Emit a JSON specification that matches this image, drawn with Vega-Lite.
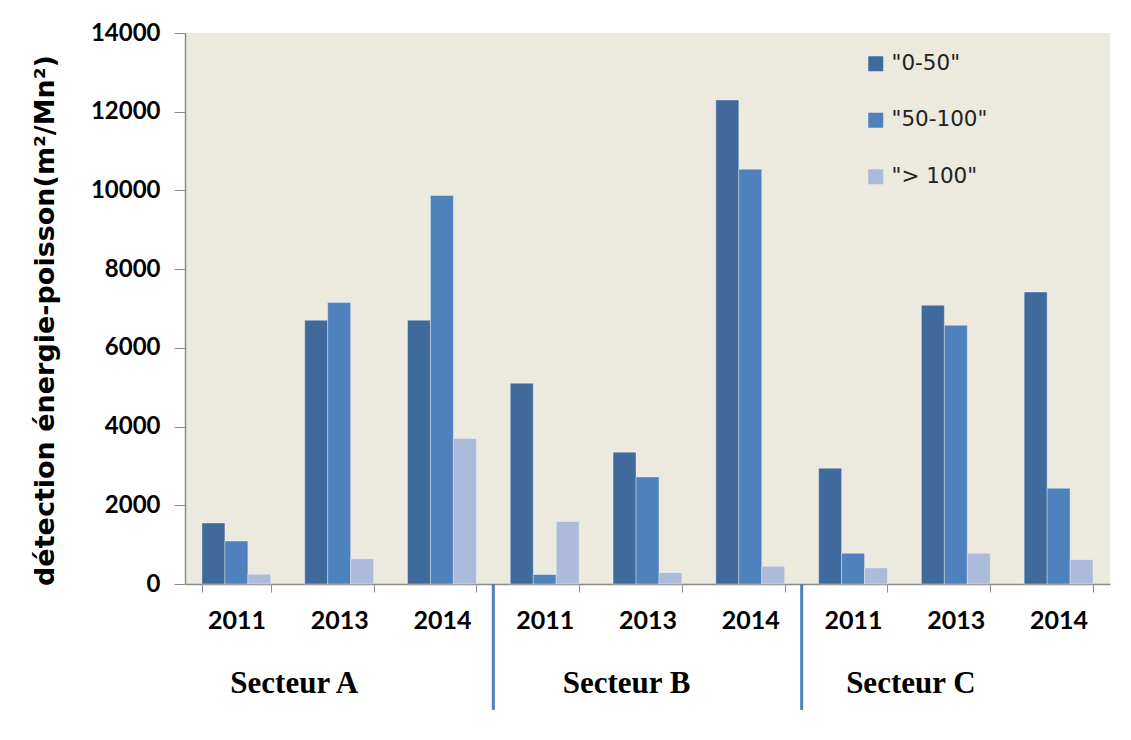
{
  "$schema": "https://vega.github.io/schema/vega-lite/v6.json",
  "width": 925,
  "height": 551,
  "autosize": "none",
  "padding": {"left": 185, "top": 33, "right": 21, "bottom": 156},
  "background": "white",
  "config": {
    "view": {"fill": "#ece9df", "stroke": null},
    "font": "Lato"
  },
  "layer": [
    {
      "data": {
        "values": [
          {"grp": "A|2011", "serie": "\"0-50\"", "v": 1550},
          {"grp": "A|2011", "serie": "\"50-100\"", "v": 1090},
          {"grp": "A|2011", "serie": "\"> 100\"", "v": 250},
          {"grp": "A|2013", "serie": "\"0-50\"", "v": 6700},
          {"grp": "A|2013", "serie": "\"50-100\"", "v": 7150},
          {"grp": "A|2013", "serie": "\"> 100\"", "v": 640},
          {"grp": "A|2014", "serie": "\"0-50\"", "v": 6700},
          {"grp": "A|2014", "serie": "\"50-100\"", "v": 9870},
          {"grp": "A|2014", "serie": "\"> 100\"", "v": 3700},
          {"grp": "B|2011", "serie": "\"0-50\"", "v": 5100},
          {"grp": "B|2011", "serie": "\"50-100\"", "v": 240},
          {"grp": "B|2011", "serie": "\"> 100\"", "v": 1590},
          {"grp": "B|2013", "serie": "\"0-50\"", "v": 3350},
          {"grp": "B|2013", "serie": "\"50-100\"", "v": 2720},
          {"grp": "B|2013", "serie": "\"> 100\"", "v": 290},
          {"grp": "B|2014", "serie": "\"0-50\"", "v": 12300},
          {"grp": "B|2014", "serie": "\"50-100\"", "v": 10540},
          {"grp": "B|2014", "serie": "\"> 100\"", "v": 450},
          {"grp": "C|2011", "serie": "\"0-50\"", "v": 2940},
          {"grp": "C|2011", "serie": "\"50-100\"", "v": 780},
          {"grp": "C|2011", "serie": "\"> 100\"", "v": 410},
          {"grp": "C|2013", "serie": "\"0-50\"", "v": 7080},
          {"grp": "C|2013", "serie": "\"50-100\"", "v": 6575},
          {"grp": "C|2013", "serie": "\"> 100\"", "v": 780},
          {"grp": "C|2014", "serie": "\"0-50\"", "v": 7420},
          {"grp": "C|2014", "serie": "\"50-100\"", "v": 2430},
          {"grp": "C|2014", "serie": "\"> 100\"", "v": 620}
        ]
      },
      "mark": {"type": "bar", "stroke": "#ffffff", "strokeOpacity": 0.35, "strokeWidth": 1},
      "encoding": {
        "x": {
          "field": "grp",
          "type": "nominal",
          "sort": null,
          "scale": {"paddingInner": 0.33, "paddingOuter": 0.165},
          "axis": {
            "title": null,
            "labelExpr": "split(datum.label, '|')[1]",
            "labelAngle": 0,
            "labelFont": "Lato",
            "labelFontWeight": "bold",
            "labelFontSize": 25,
            "labelColor": "#000000",
            "labelPadding": 16,
            "tickBand": "extent",
            "tickSize": 8,
            "tickColor": "#8c8c8c",
            "domainColor": "#8c8c8c",
            "domainWidth": 1.5
          }
        },
        "xOffset": {
          "field": "serie",
          "type": "nominal",
          "sort": ["\"0-50\"", "\"50-100\"", "\"> 100\""],
          "scale": {"paddingInner": 0, "paddingOuter": 0}
        },
        "y": {
          "field": "v",
          "type": "quantitative",
          "scale": {"domain": [0, 14000], "nice": false},
          "axis": {
            "title": "détection énergie-poisson(m²/Mn²)",
            "titleFont": "DejaVu Sans",
            "titleFontWeight": "bold",
            "titleFontSize": 27,
            "titleColor": "#000000",
            "titleAngle": -90,
            "titleX": -140,
            "titleY": 287,
            "titleAlign": "center",
            "titleBaseline": "middle",
            "values": [0, 2000, 4000, 6000, 8000, 10000, 12000, 14000],
            "format": "d",
            "grid": false,
            "labelFont": "Lato",
            "labelFontWeight": "bold",
            "labelFontSize": 24,
            "labelColor": "#000000",
            "labelPadding": 14,
            "tickSize": 11,
            "tickColor": "#8c8c8c",
            "domainColor": "#8c8c8c",
            "domainWidth": 1.5
          }
        },
        "color": {
          "field": "serie",
          "type": "nominal",
          "sort": ["\"0-50\"", "\"50-100\"", "\"> 100\""],
          "scale": {"range": ["#406a9c", "#4f81bd", "#abbbd9"]},
          "legend": {
            "title": null,
            "orient": "none",
            "legendX": 680,
            "legendY": 20,
            "symbolType": "square",
            "symbolSize": 225,
            "symbolStrokeWidth": 0,
            "labelFont": "DejaVu Sans",
            "labelFontSize": 21.5,
            "labelColor": "#222222",
            "labelOffset": 5,
            "rowPadding": 33.5,
            "padding": 0
          }
        }
      }
    },
    {
      "data": {"values": [{"sector": "Secteur B"}, {"sector": "Secteur C"}]},
      "mark": {"type": "rule", "color": "#4f81bd", "strokeWidth": 3},
      "encoding": {
        "x": {
          "field": "sector",
          "type": "nominal",
          "bandPosition": 0,
          "scale": {"domain": ["Secteur A", "Secteur B", "Secteur C"], "paddingInner": 0, "paddingOuter": 0},
          "axis": {
            "title": null,
            "orient": "bottom",
            "labelAngle": 0,
            "domain": false,
            "ticks": false,
            "labelFont": "Liberation Serif",
            "labelFontWeight": "bold",
            "labelFontSize": 31,
            "labelColor": "#000000",
            "labelPadding": 84,
            "labelBaseline": "top",
            "labelOffset": {"condition": {"test": "datum.value == 'Secteur B'", "value": -21}, "value": -45}
          }
        },
        "y": {"datum": 0},
        "y2": {"datum": -3200}
      }
    }
  ],
  "resolve": {"scale": {"x": "independent"}, "axis": {"x": "independent"}}
}
